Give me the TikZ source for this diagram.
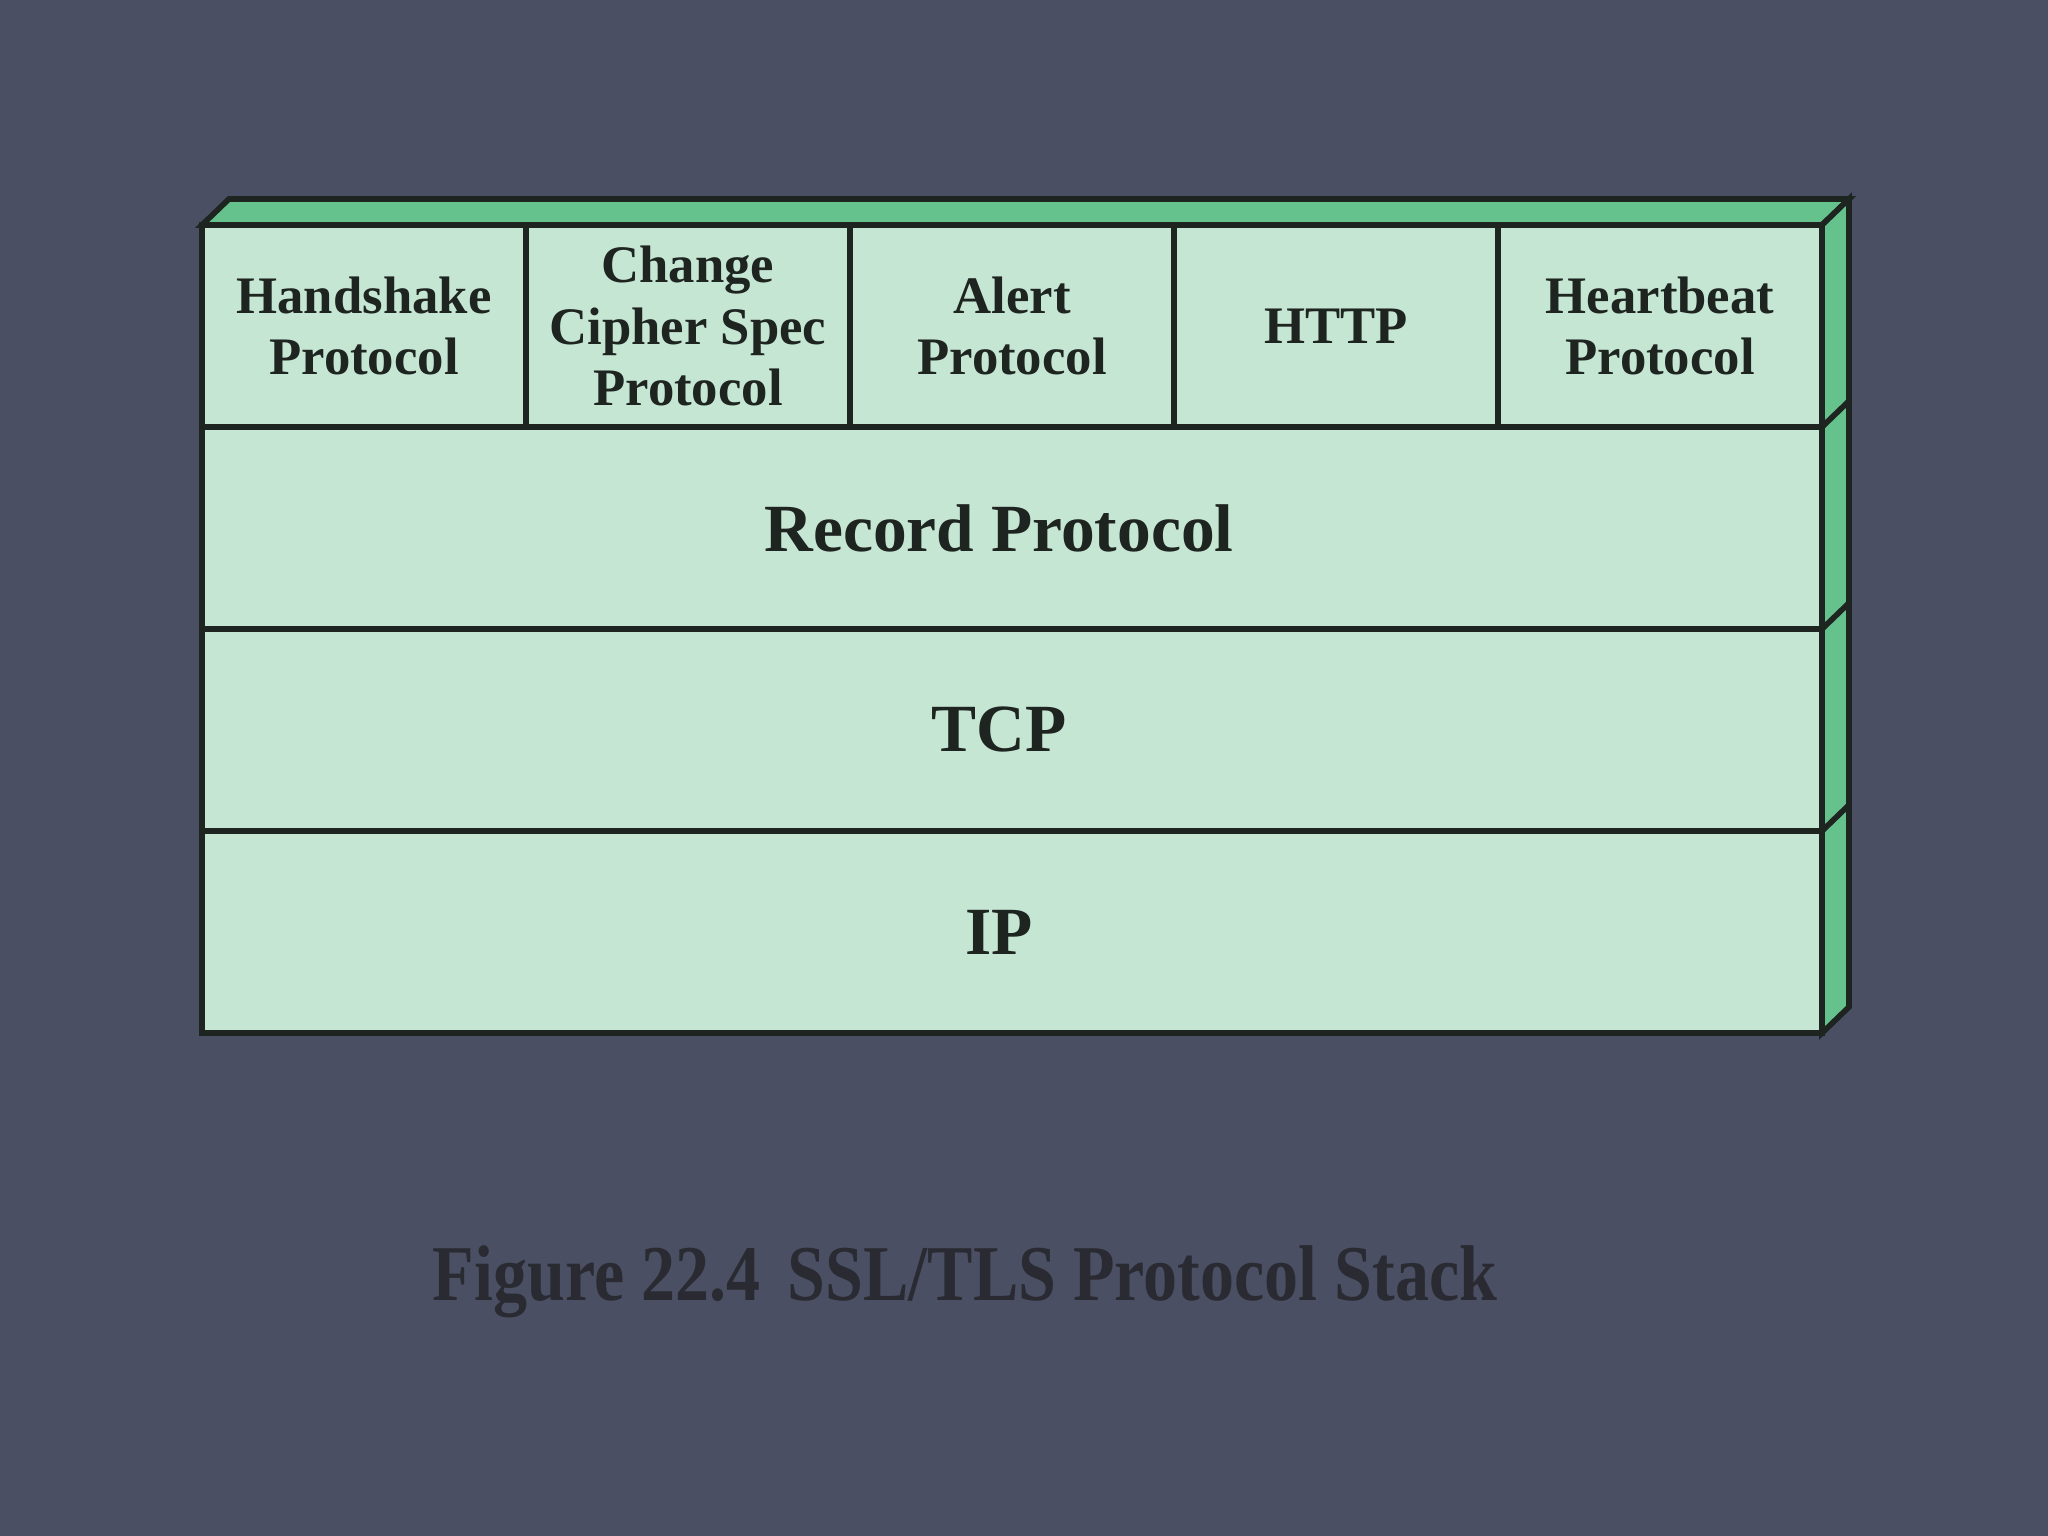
\documentclass[tikz,border=0pt]{standalone}
\usepackage{fontspec}
\setmainfont{Liberation Serif}
\newfontfamily\capfont[FakeStretch=0.86]{Liberation Serif}
\usetikzlibrary{positioning, calc}
\definecolor{slate}{HTML}{4A4F63}
\definecolor{mint}{HTML}{C6E6D4}
\definecolor{leaf}{HTML}{66C28C}
\definecolor{edge}{HTML}{1E2420}
\definecolor{ink}{HTML}{1E2420}
\definecolor{capink}{HTML}{2A2B32}

\begin{document}
\begin{tikzpicture}[
    node distance=0cm and 0cm,
    cell/.style={
        draw=edge,
        fill=mint,
        line width=1.6pt,
        outer sep=0pt,
        inner sep=0pt,
        align=center,
        minimum width=3.24cm,
        minimum height=2.02cm,
        font=\fontsize{15}{17.4}\selectfont\bfseries,
        text=ink
    },
    layer/.style={
        cell,
        minimum width=16.2cm,
        font=\fontsize{19.2}{22}\selectfont\bfseries
    },
    side/.style={
        draw=edge,
        fill=leaf,
        line width=1.6pt
    }
]
\useasboundingbox (0,0) rectangle (20.48,15.36);
\fill[slate] (0,0) rectangle (20.48,15.36);
\coordinate (d) at (0.27,0.26);

% Upper protocols
\node (hs) [cell, anchor=north west] at (2.02,13.11) {Handshake\\Protocol};
\node (ccs) [cell, right=of hs] {Change\\Cipher Spec\\Protocol};
\node (al) [cell, right=of ccs] {Alert\\Protocol};
\node (http) [cell, right=of al] {HTTP};
\node (hb) [cell, right=of http] {Heartbeat\\Protocol};

% Lower layers
\node (rec) [layer, anchor=north west] at (hs.south west) {Record Protocol\hspace*{0.26cm}};
\node (tcp) [layer, below=of rec] {TCP\hspace*{0.26cm}};
\node (ip) [layer, below=of tcp] {IP\hspace*{0.26cm}};

% Depth faces
\draw [side] (hs.north west) -- ($(hs.north west)+(d)$) -- ($(hb.north east)+(d)$) -- (hb.north east) -- cycle;
\draw [side] (hb.north east) -- ($(hb.north east)+(d)$) -- ($(ip.south east)+(d)$) -- (ip.south east) -- cycle;
\foreach \n in {rec, tcp, ip}
    \draw [side] (\n.north east) -- ($(\n.north east)+(d)$);

% Caption
\node (cap) [anchor=base, text=capink, font=\capfont\fontsize{22.5}{26}\selectfont\bfseries] at (9.65,2.35) {Figure 22.4\hspace{0.35em}SSL/TLS Protocol Stack};

\end{tikzpicture}
\end{document}
